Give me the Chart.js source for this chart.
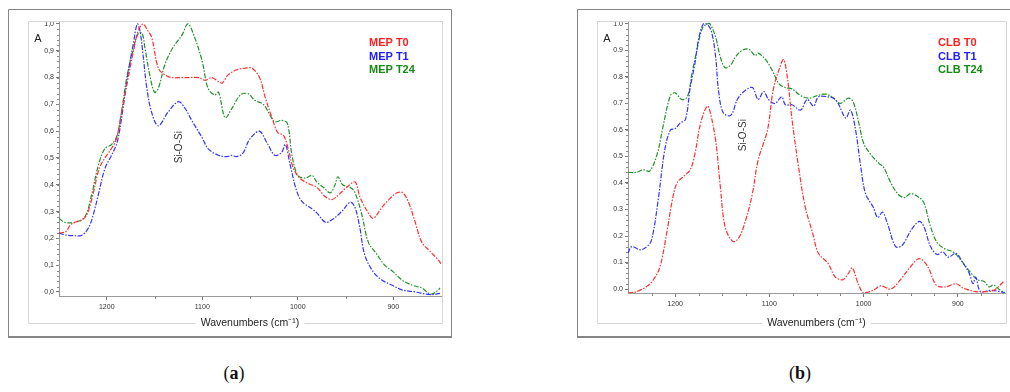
<!DOCTYPE html>
<html lang="en">
<head>
<meta charset="UTF-8">
<title>FTIR spectra MEP / CLB</title>
<script src="https://cdn.jsdelivr.net/npm/chart.js"></script>
<style>
  body { margin: 0; background: #fff; width: 1010px; height: 392px; overflow: hidden; position: relative; }
  canvas { position: absolute; top: 9px; }
  #chartA { left: 8px; }
  #chartB { left: 577px; }
  .cap { position: absolute; top: 363px; font-family: "Liberation Serif", "Times New Roman", serif; font-size: 18px; transform: translateX(-50%); color: #111; }
</style>
</head>
<body>
<canvas id="chartA" width="444" height="329"></canvas>
<canvas id="chartB" width="440" height="329"></canvas>
<div class="cap" style="left:234px">(<b>a</b>)</div>
<div class="cap" style="left:800px">(<b>b</b>)</div>

<script>
// ---- data (wavenumber cm-1, absorbance) ----
const xTicks = [1200, 1100, 1000, 900];
const xTickLabels = ['1200', '1100', '1000', '900'];
const yTicks = [0, 0.1, 0.2, 0.3, 0.4, 0.5, 0.6, 0.7, 0.8, 0.9, 1.0];
const yLabelsA = ['0,0', '0,1', '0,2', '0,3', '0,4', '0,5', '0,6', '0,7', '0,8', '0,9', '1,0'];
const yLabelsB = ['0.0', '0.1', '0.2', '0.3', '0.4', '0.5', '0.6', '0.7', '0.8', '0.9', '1.0'];

const mepT0Wn = [1250,1243,1238,1232,1225,1220,1214,1208,1202,1196,1190,1185,1178,1172,1167,1162,1158,1153,1146,1139,1132,1121,1115,1104,1097,1090,1083,1079,1073,1063,1055,1048,1040,1034,1027,1021,1015,1010,1005,998,989,980,971,964,958,949,940,935,927,921,912,903,896,890,884,877,870,861,853,850];
const mepT0Abs = [0.22,0.225,0.25,0.262,0.27,0.295,0.37,0.46,0.50,0.53,0.57,0.66,0.79,0.90,0.975,1.0,0.98,0.95,0.835,0.81,0.80,0.80,0.80,0.80,0.79,0.80,0.785,0.78,0.81,0.83,0.835,0.835,0.80,0.725,0.65,0.595,0.585,0.535,0.465,0.425,0.405,0.39,0.355,0.345,0.36,0.39,0.41,0.355,0.30,0.275,0.315,0.35,0.37,0.37,0.335,0.26,0.185,0.15,0.12,0.105];

const mepT1Wn = [1250,1244,1235,1226,1219,1214,1209,1202,1195,1189,1184,1178,1172,1168,1165,1162,1158,1153,1146,1136,1125,1118,1111,1100,1094,1083,1074,1069,1064,1057,1052,1048,1040,1032,1024,1017,1013,1008,1001,995,987,980,971,964,954,945,940,935,930,921,912,901,891,877,861,851];
const mepT1Abs = [0.22,0.213,0.21,0.212,0.24,0.29,0.36,0.46,0.51,0.56,0.66,0.81,0.93,1.0,0.97,0.885,0.76,0.67,0.62,0.67,0.71,0.685,0.64,0.575,0.535,0.51,0.505,0.51,0.505,0.52,0.56,0.58,0.60,0.555,0.51,0.52,0.55,0.475,0.375,0.335,0.315,0.295,0.26,0.27,0.30,0.335,0.315,0.24,0.14,0.075,0.045,0.025,0.008,0.0,-0.01,-0.005];

const mepT24Wn = [1250,1244,1233,1223,1216,1209,1202,1195,1189,1184,1179,1172,1167,1163,1160,1155,1150,1146,1139,1131,1121,1115,1108,1100,1094,1087,1083,1076,1069,1060,1052,1045,1036,1029,1024,1017,1011,1006,1000,992,985,980,973,966,961,958,953,945,940,933,926,917,909,900,891,880,870,861,854,851];
const mepT24Abs = [0.275,0.26,0.26,0.28,0.36,0.47,0.535,0.55,0.585,0.685,0.80,0.91,0.965,0.965,0.91,0.81,0.745,0.76,0.85,0.91,0.96,1.0,0.95,0.86,0.76,0.735,0.745,0.65,0.685,0.735,0.74,0.715,0.70,0.66,0.635,0.64,0.63,0.51,0.435,0.425,0.435,0.41,0.39,0.37,0.40,0.43,0.40,0.39,0.37,0.29,0.185,0.14,0.10,0.075,0.045,0.025,0.015,-0.008,0.004,0.015];

const clbT0Wn = [1250,1241,1230,1223,1216,1209,1203,1198,1191,1184,1179,1173,1166,1163,1157,1152,1147,1139,1133,1126,1118,1112,1102,1096,1090,1085,1081,1076,1069,1062,1054,1048,1038,1030,1022,1016,1012,1006,1000,990,982,971,961,950,941,932,923,913,902,894,881,872,862,851];
const clbT0Abs = [-0.015,-0.01,0.01,0.035,0.085,0.21,0.335,0.40,0.425,0.45,0.51,0.625,0.69,0.67,0.56,0.385,0.235,0.18,0.19,0.25,0.36,0.485,0.60,0.75,0.825,0.865,0.80,0.64,0.46,0.31,0.21,0.135,0.098,0.045,0.035,0.06,0.08,0.022,-0.015,-0.005,0.012,0.0,0.035,0.085,0.115,0.085,0.015,0.008,0.02,0.003,-0.01,-0.01,-0.005,0.03];

const clbT1Wn = [1250,1246,1237,1230,1225,1218,1211,1205,1200,1195,1189,1184,1179,1175,1170,1165,1161,1157,1154,1149,1141,1134,1127,1118,1112,1106,1101,1094,1087,1083,1076,1067,1060,1053,1048,1038,1032,1027,1019,1014,1009,1003,998,990,985,980,975,966,959,950,941,936,929,922,916,910,902,895,888,884,881,876,865,855,849];
const clbT1Abs = [0.135,0.16,0.148,0.16,0.185,0.335,0.525,0.60,0.605,0.625,0.64,0.76,0.85,0.945,1.0,0.995,0.965,0.875,0.75,0.665,0.655,0.715,0.745,0.76,0.715,0.745,0.715,0.70,0.725,0.695,0.695,0.675,0.715,0.69,0.725,0.725,0.72,0.70,0.645,0.675,0.61,0.46,0.36,0.31,0.27,0.29,0.25,0.16,0.165,0.22,0.255,0.235,0.16,0.13,0.14,0.12,0.135,0.10,0.06,0.02,0.045,-0.01,-0.005,-0.01,-0.015];

const clbT24Wn = [1250,1241,1234,1227,1219,1213,1205,1200,1193,1187,1182,1177,1171,1166,1163,1157,1152,1147,1141,1136,1129,1122,1115,1112,1104,1097,1090,1083,1076,1067,1058,1049,1040,1032,1025,1016,1011,1005,1000,993,984,979,971,964,957,950,941,936,929,922,913,905,897,886,879,872,867,862,855,849];
const clbT24Abs = [0.44,0.44,0.45,0.445,0.51,0.61,0.73,0.74,0.715,0.725,0.815,0.90,0.985,1.0,1.0,0.95,0.875,0.835,0.845,0.875,0.90,0.905,0.88,0.89,0.865,0.825,0.775,0.76,0.755,0.73,0.72,0.73,0.735,0.72,0.70,0.72,0.705,0.625,0.55,0.51,0.475,0.46,0.40,0.36,0.345,0.36,0.345,0.325,0.235,0.175,0.15,0.14,0.11,0.06,0.035,0.028,0.008,0.015,-0.005,-0.015];

const FONT = '"Liberation Sans", Arial, sans-serif';
const RED = '#ff3030', BLUE = '#3535ff', GREEN = '#22902a';

function pts(wn, ab) { return wn.map((w, i) => ({ x: w, y: ab[i] })); }

function line(label, wn, ab, color) {
    return {
        label: label,
        data: pts(wn, ab),
        borderColor: color,
        borderWidth: 1.2,
        borderDash: [5, 1.5, 1.5, 1.5],
        pointRadius: 0,
        tension: 0.35,
        fill: false
    };
}

// frame, labels, legend, minor ticks
const decor = {
    id: 'decor',
    afterDraw(chart, args, o) {
        const ctx = chart.ctx, a = chart.chartArea, sx = chart.scales.x, sy = chart.scales.y;
        const W = chart.width, H = chart.height;
        ctx.save();

        // outer box
        ctx.strokeStyle = '#858585';
        ctx.lineWidth = 1;
        ctx.beginPath();
        ctx.moveTo(0.5, H - 1); ctx.lineTo(0.5, 0.5); ctx.lineTo(W - 0.5, 0.5);
        if (o.rightEdge) ctx.lineTo(W - 0.5, H - 1);
        ctx.stroke();
        ctx.lineWidth = 2;
        ctx.beginPath(); ctx.moveTo(0, H - 1); ctx.lineTo(W, H - 1); ctx.stroke();

        // axis title with break in inner frame
        const title = 'Wavenumbers (cm\u207B\u00B9)';
        ctx.font = '10.5px ' + FONT;
        const tw = ctx.measureText(title).width;
        const cx = (a.left + a.right) / 2;
        const f = o.frame;
        ctx.strokeStyle = '#d6d6d6';
        ctx.lineWidth = 1;
        ctx.beginPath();
        ctx.moveTo(cx - tw / 2 - 5, f.b + 0.5);
        ctx.lineTo(f.l + 0.5, f.b + 0.5);
        ctx.lineTo(f.l + 0.5, a.top + 0.5);
        ctx.lineTo(f.r + 0.5, a.top + 0.5);
        ctx.lineTo(f.r + 0.5, f.b + 0.5);
        ctx.lineTo(cx + tw / 2 + 5, f.b + 0.5);
        ctx.stroke();
        ctx.fillStyle = '#222';
        ctx.textAlign = 'center';
        ctx.textBaseline = 'middle';
        ctx.fillText(title, cx, f.b);

        // minor ticks
        ctx.strokeStyle = '#888';
        ctx.beginPath();
        o.xMinor.forEach(v => {
            const px = Math.round(sx.getPixelForValue(v)) + 0.5;
            ctx.moveTo(px, a.bottom); ctx.lineTo(px, a.bottom + 3);
        });
        for (let v = 0.02; v < 1.0; v += 0.02) {
            const py = Math.round(sy.getPixelForValue(v)) + 0.5;
            ctx.moveTo(a.left - 2, py); ctx.lineTo(a.left, py);
        }
        ctx.stroke();

        // "A" axis label
        ctx.font = '11px ' + FONT;
        ctx.fillStyle = '#222';
        ctx.fillText('A', a.left - 21, 30);

        // band label
        ctx.save();
        ctx.translate(sx.getPixelForValue(o.band.x), sy.getPixelForValue(o.band.y));
        ctx.rotate(-Math.PI / 2);
        ctx.font = '10px ' + FONT;
        ctx.fillStyle = '#333';
        ctx.fillText('Si-O-Si', 0, 0);
        ctx.restore();

        // legend
        ctx.font = 'bold 11px ' + FONT;
        ctx.textAlign = 'left';
        chart.data.datasets.forEach((d, i) => {
            ctx.fillStyle = o.legendColors[i];
            ctx.fillText(d.label, a.right - o.legendDx, 34 + i * 13.5);
        });
        ctx.restore();
    }
};

function makeChart(id, sets, yLabels, opts) {
    return new Chart(document.getElementById(id), {
        type: 'line',
        data: { datasets: sets },
        plugins: [decor],
        options: {
            responsive: false,
            animation: false,
            layout: { padding: { top: 12, right: opts.padRight, left: 0, bottom: 0 } },
            plugins: {
                legend: { display: false },
                tooltip: { enabled: false },
                decor: opts.decor
            },
            scales: {
                x: {
                    type: 'linear',
                    reverse: true,
                    min: 850,
                    max: 1250,
                    afterBuildTicks: s => { s.ticks = xTicks.map(v => ({ value: v })); },
                    afterFit: s => { s.height = opts.xAxisH; },
                    border: { display: true, color: '#9a9a9a' },
                    grid: { drawOnChartArea: false, tickLength: 4, color: '#777' },
                    ticks: {
                        callback: (v, i) => xTickLabels[i],
                        font: { size: 7, family: FONT },
                        color: '#333',
                        padding: 3,
                        maxRotation: 0,
                        autoSkip: false
                    }
                },
                y: {
                    min: -0.015,
                    max: 1.011,
                    afterBuildTicks: s => { s.ticks = yTicks.map(v => ({ value: v })); },
                    afterFit: s => { s.width = 51; },
                    border: { display: true, color: '#9a9a9a' },
                    grid: { drawOnChartArea: false, tickLength: 3, color: '#777' },
                    ticks: {
                        callback: (v, i) => yLabels[i],
                        font: { size: 7, family: FONT },
                        color: '#333',
                        padding: 2,
                        autoSkip: false
                    }
                }
            }
        }
    });
}

makeChart('chartA', [
    line('MEP T0', mepT0Wn, mepT0Abs, RED),
    line('MEP T1', mepT1Wn, mepT1Abs, BLUE),
    line('MEP T24', mepT24Wn, mepT24Abs, GREEN)
], yLabelsA, {
    padRight: 11,
    xAxisH: 42,
    decor: {
        frame: { l: 20, r: 434, b: 314 },
        rightEdge: true,
        xMinor: [1150, 1050, 950],
        band: { x: 1124, y: 0.54 },
        legendDx: 72,
        legendColors: ['#ff1f1f', '#2020ff', '#158a15']
    }
});

makeChart('chartB', [
    line('CLB T0', clbT0Wn, clbT0Abs, RED),
    line('CLB T1', clbT1Wn, clbT1Abs, BLUE),
    line('CLB T24', clbT24Wn, clbT24Abs, GREEN)
], yLabelsB, {
    padRight: 12,
    xAxisH: 45,
    decor: {
        frame: { l: 20, r: 429, b: 314 },
        rightEdge: false,
        xMinor: [1225, 1175, 1150, 1125, 1075, 1050, 1025, 975, 950, 925, 875],
        band: { x: 1128, y: 0.58 },
        legendDx: 67,
        legendColors: ['#ff1f1f', '#2020ff', '#158a15']
    }
});
</script>
</body>
</html>
